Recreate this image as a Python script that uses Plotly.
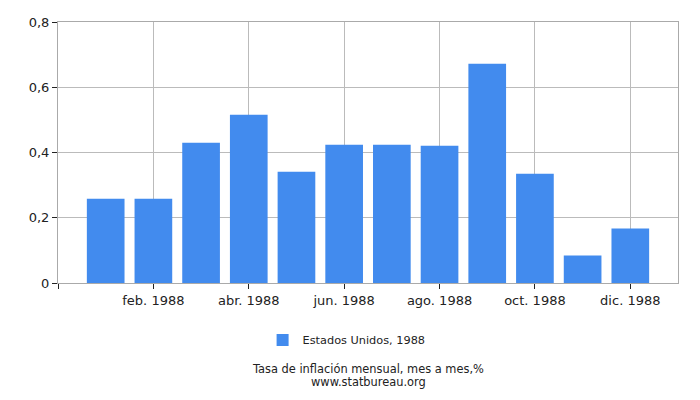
import plotly.graph_objects as go

# Données : inflation mensuelle, Etats-Unis 1988
meses = ["ene. 1988", "feb. 1988", "mar. 1988", "abr. 1988", "may. 1988", "jun. 1988",
         "jul. 1988", "ago. 1988", "sep. 1988", "oct. 1988", "nov. 1988", "dic. 1988"]
valores = [0.258, 0.258, 0.430, 0.516, 0.341, 0.424, 0.424, 0.421, 0.672, 0.335, 0.084, 0.167]
tick_idx = [1, 3, 5, 7, 9, 11]
y_ticks = [0, 0.2, 0.4, 0.6, 0.8]

x = list(range(len(meses)))

fig = go.Figure()
fig.add_trace(go.Bar(x=x, y=valores, name="Estados Unidos, 1988",
                     marker=dict(color="#428bee", line=dict(width=0)), width=0.79))

# la page a une marge de 8px, on compense dans les marges
fig.update_layout(
    width=700, height=400,
    margin=dict(l=50, r=30, t=14, b=125),
    plot_bgcolor="white", paper_bgcolor="white",
    font=dict(family="DejaVu Sans", size=13, color="#222"),
    separators=", ",
    showlegend=True,
    legend=dict(orientation="h", x=0.33, xanchor="left", y=-0.218, yanchor="middle",
                font=dict(size=11.3)),
    xaxis=dict(range=[-1, 12], tickvals=[-1] + tick_idx,
               ticktext=[""] + [meses[i] for i in tick_idx],
               showgrid=True, gridcolor="#bbbbbb", ticks="outside", ticklen=5,
               tickcolor="#222", showline=True, linecolor="#aaaaaa", mirror=True,
               zeroline=False, automargin=False),
    yaxis=dict(range=[0, 0.8], tickvals=y_ticks,
               ticktext=["0", "0,2", "0,4", "0,6", "0,8"],
               showgrid=True, gridcolor="#bbbbbb", ticks="outside", ticklen=5,
               tickcolor="#222", showline=True, linecolor="#aaaaaa", mirror=True,
               zeroline=False, automargin=False),
    annotations=[
        dict(text="Tasa de inflación mensual, mes a mes,%",
             x=0.5, y=-0.328, xref="paper", yref="paper", xanchor="center",
             yanchor="middle", showarrow=False, font=dict(size=11.4)),
        dict(text="www.statbureau.org",
             x=0.5, y=-0.378, xref="paper", yref="paper", xanchor="center",
             yanchor="middle", showarrow=False, font=dict(size=11.4)),
    ],
)

fig.write_html("out.html")
